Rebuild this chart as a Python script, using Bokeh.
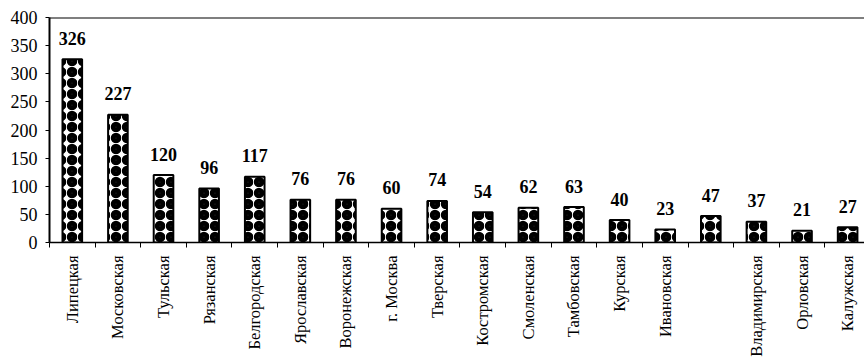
import numpy as np
from bokeh.plotting import figure
from bokeh.models import (ColumnDataSource, Range1d, FixedTicker, Span)
from bokeh.embed import file_html
from bokeh.resources import INLINE
from bokeh.core.properties import value

regions = ["Липецкая", "Московская", "Тульская", "Рязанская", "Белгородская",
           "Ярославская", "Воронежская", "г. Москва", "Тверская", "Костромская",
           "Смоленская", "Тамбовская", "Курская", "Ивановская", "",
           "Владимирская", "Орловская", "Калужская"]
counts = [326, 227, 120, 96, 117, 76, 76, 60, 74, 54, 62, 63, 40, 23, 47, 37, 21, 27]
y_ticks = [0, 50, 100, 150, 200, 250, 300, 350, 400]

n = len(regions)
xc = [i + 0.5 for i in range(n)]
src = ColumnDataSource(dict(x=xc, top=counts, lab=[str(c) for c in counts]))

FONT = "Liberation Serif"

p = figure(width=864, height=359, output_backend="svg", toolbar_location=None,
           x_range=Range1d(0, 17.87), y_range=Range1d(0, 400),
           min_border_left=49, min_border_right=0, min_border_top=17,
           min_border_bottom=117)
p.outline_line_color = None
p.grid.visible = False
p.background_fill_color = "white"

p.vbar(x="x", top="top", width=0.43, bottom=0, source=src,
       fill_color="white", line_color="black", line_width=2,
       hatch_pattern="ring", hatch_color="black", hatch_scale=11, hatch_weight=5)

p.text(x="x", y="top", text="lab", source=src, y_offset=-21,
       text_align="center", text_baseline="middle",
       text_font=value(FONT), text_font_style="bold", text_font_size="18px",
       text_color="black")

p.add_layout(Span(location=400, dimension="width", line_color="black", line_width=2))

# x axis
xa = p.xaxis[0]
xa.ticker = FixedTicker(ticks=xc, minor_ticks=list(range(n + 1)))
xa.major_label_overrides = {x: r for x, r in zip(xc, regions)}
xa.major_label_orientation = np.pi / 2
xa.major_tick_line_color = None
xa.major_tick_out = 0
xa.major_tick_in = 0
xa.minor_tick_out = 5
xa.minor_tick_in = 0
xa.minor_tick_line_color = "black"
xa.minor_tick_line_width = 1
xa.axis_line_width = 1.5
xa.major_label_text_font = FONT
xa.major_label_text_font_size = "16.5px"
xa.major_label_text_color = "black"
xa.major_label_standoff = 8

ya = p.yaxis[0]
ya.ticker = FixedTicker(ticks=y_ticks, minor_ticks=[])
ya.axis_line_width = 2
ya.major_tick_out = 4
ya.major_tick_in = 0
ya.major_tick_line_width = 1
ya.major_label_text_font = FONT
ya.major_label_text_font_size = "18px"
ya.major_label_text_color = "black"
ya.major_label_standoff = 8

open("out.html", "w").write(file_html(p, INLINE))
